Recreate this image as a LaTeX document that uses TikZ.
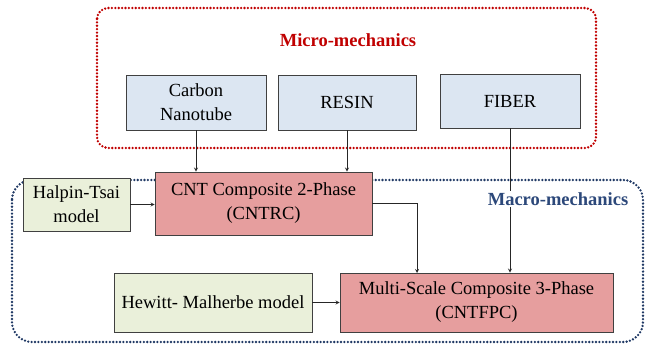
\documentclass[tikz,border=0pt]{standalone}
\usepackage{fontspec}
\setmainfont{Liberation Serif}
\usepackage{tikz}
\usetikzlibrary{arrows.meta, calc, positioning}
\tikzset{>=stealth}
\definecolor{boxblue}{RGB}{220,230,242}
\definecolor{boxpink}{RGB}{230,158,158}
\definecolor{boxgreen}{RGB}{234,240,218}
\definecolor{microred}{RGB}{192,0,0}
\definecolor{macroblue}{RGB}{31,56,100}
\definecolor{macrotext}{RGB}{44,72,122}
\tikzset{
  matbox/.style={draw=black!75, line width=0.8pt, fill=boxblue, align=center, inner sep=0pt},
  phasebox/.style={draw=black!75, line width=0.8pt, fill=boxpink, align=center, inner sep=0pt},
  modelbox/.style={draw=black!75, line width=0.8pt, fill=boxgreen, align=center, inner sep=0pt},
  dotframe/.style={line width=2.6pt, line cap=round, dash pattern=on 0pt off 3.4pt},
  link/.style={->, line width=0.8pt, black!85}
}
\begin{document}
\begin{tikzpicture}[x=1pt, y=-1pt, font=\fontsize{18.5}{24}\selectfont]
	\useasboundingbox (0,0) rectangle (652,344);
	% frames
	\draw [dotframe, microred, rounded corners=11pt] (97,8) rectangle (596,148);
	\draw [dotframe, macroblue, rounded corners=20pt] (12,180) rectangle (643,342);
	\node [text=microred, font=\fontsize{18.5}{22}\selectfont\bfseries] (micro) at (348,40) {Micro-mechanics};
	% materials
	\node [matbox, minimum width=140pt, minimum height=55pt] (cnt) at (196,102.5) {Carbon\\Nanotube};
	\node [matbox, minimum width=138pt, minimum height=55pt] (resin) at (347,102.5) {RESIN};
	\node [matbox, minimum width=140pt, minimum height=54pt] (fiber) at (510,101) {FIBER};
	% phases and models
	\node [phasebox, minimum width=217pt, minimum height=63pt] (twophase) at (263.5,203.5) {CNT Composite 2-Phase\\(CNTRC)};
	\node [modelbox, minimum width=107pt, minimum height=53pt] (halpin) at (76.5,204.5) {Halpin-Tsai\\model};
	\node [phasebox, minimum width=273pt, minimum height=59pt] (threephase) at (476.5,302.5) {Multi-Scale Composite 3-Phase\\(CNTFPC)};
	\node [modelbox, minimum width=198pt, minimum height=59pt] (hewitt) at (213,302.5) {Hewitt- Malherbe model};
	\coordinate (joint) at (417,273);
	% connectors
	\draw [link] (cnt.south) -- (cnt.south |- twophase.north);
	\draw [link] (resin.south) -- (resin.south |- twophase.north);
	\draw [link] (halpin.east) -- (halpin.east -| twophase.west);
	\draw [link] (twophase.east) -| (joint);
	\draw [link] (fiber.south) -- (fiber.south |- threephase.north);
	\draw [link] (hewitt.east) -- (threephase.west);
	\node [fill=white, inner sep=1pt, text=macrotext, font=\fontsize{18.5}{22}\selectfont\bfseries] (macro) at (558,199) {Macro-mechanics};
\end{tikzpicture}
\end{document}
